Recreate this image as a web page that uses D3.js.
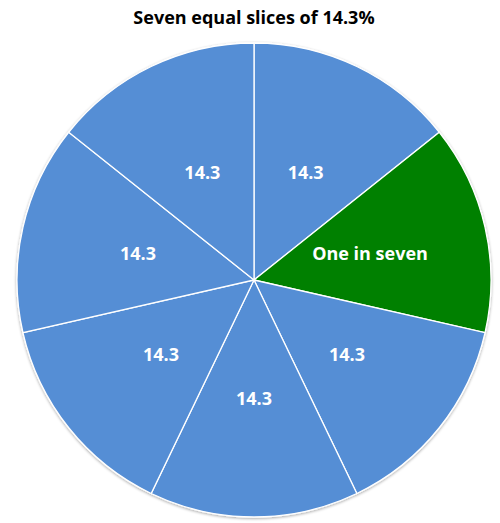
<!DOCTYPE html>
<html><head><meta charset="utf-8">
<script src="https://cdn.jsdelivr.net/npm/d3@7/dist/d3.min.js"></script>
<style>body{margin:0;background:#fff}svg{display:block}</style>
</head><body>
<script>
const title = "Seven equal slices of 14.3%";
const categories = ["A","One in seven","C","D","E","F","G"];
const values = [14.3,14.3,14.3,14.3,14.3,14.3,14.3];
const labels = ["14.3","One in seven","14.3","14.3","14.3","14.3","14.3"];
const colors = ["#558ED5","#008000","#558ED5","#558ED5","#558ED5","#558ED5","#558ED5"];

const W=500,H=523, cx=254, cy=280, R=237;
const svg=d3.select("body").append("svg").attr("width",W).attr("height",H);
const defs=svg.append("defs");
const f=defs.append("filter").attr("id","sh").attr("x","-10%").attr("y","-10%").attr("width","120%").attr("height","120%");
f.append("feGaussianBlur").attr("in","SourceAlpha").attr("stdDeviation",1.5);
f.append("feOffset").attr("dx",0).attr("dy",1).attr("result","b");
f.append("feComponentTransfer").append("feFuncA").attr("type","linear").attr("slope",0.35);
const m=f.append("feMerge"); m.append("feMergeNode"); m.append("feMergeNode").attr("in","SourceGraphic");

svg.append("text").attr("x",254).attr("y",24).attr("text-anchor","middle")
  .style("font-family","'Open Sans',sans-serif").style("font-weight","bold").style("font-size","18px")
  .attr("fill","#000").text(title);

const pie=d3.pie().sort(null).value(d=>d)(values);
const arc=d3.arc().innerRadius(0).outerRadius(R);
const larc=d3.arc().innerRadius(119).outerRadius(119);
const g=svg.append("g").attr("transform",`translate(${cx},${cy})`);
g.append("g").attr("filter","url(#sh)").selectAll("path").data(pie).join("path")
  .attr("d",arc).attr("fill",(d,i)=>colors[i]).attr("stroke","#fff").attr("stroke-width",1.3);
g.selectAll("text").data(pie).join("text")
  .attr("transform",d=>`translate(${larc.centroid(d)})`)
  .attr("text-anchor","middle").attr("dy","0.35em")
  .style("font-family","'Open Sans',sans-serif").style("font-weight","bold").style("font-size","18px")
  .attr("fill","#fff").text((d,i)=>labels[i]);
</script>
</body></html>
